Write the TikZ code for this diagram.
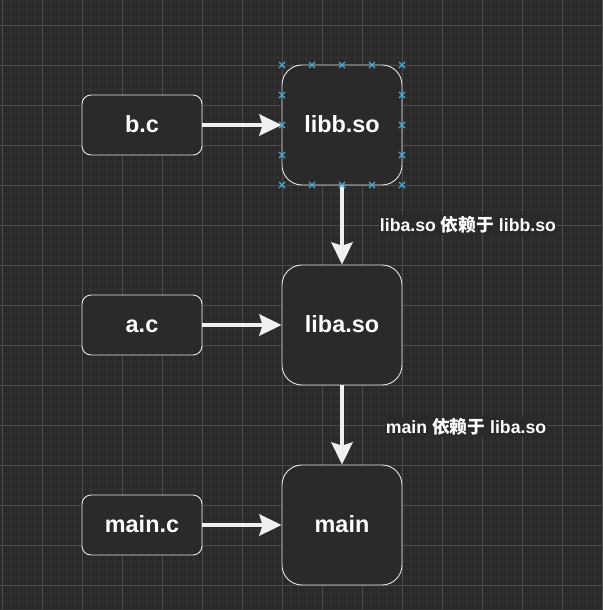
\documentclass[tikz,border=0pt]{standalone}
\usepackage{fontspec}
\setmainfont{Liberation Sans}
\newfontfamily\cjk{Noto Sans CJK SC}
\usetikzlibrary{arrows.meta}
\definecolor{bgc}{HTML}{2A2A2A}
\definecolor{minorc}{HTML}{333333}
\definecolor{majorc}{HTML}{4C4C4C}
\definecolor{boxc}{HTML}{2A2A2A}
\definecolor{edgec}{HTML}{E6E6E6}
\definecolor{arrc}{HTML}{F0F0F0}
\definecolor{handc}{HTML}{4AAAD8}
\tikzset{
  bigbox/.style={draw=edgec, fill=boxc, line width=0.9pt, rounded corners=20pt,
    minimum width=120pt, minimum height=120pt, inner sep=0pt,
    text height=16.5pt, text depth=2.5pt,
    text=white, font=\fontsize{23.4}{27}\selectfont\bfseries},
  smallbox/.style={draw=edgec, fill=boxc, line width=0.9pt, rounded corners=9pt,
    minimum width=120pt, minimum height=60pt, inner sep=0pt,
    text height=16.5pt, text depth=2.5pt,
    text=white, font=\fontsize{23.4}{27}\selectfont\bfseries},
  conn/.style={draw=arrc, line width=4.5pt,
    -{Stealth[length=22pt,width=21pt,inset=3pt]}},
  lbl/.style={fill=bgc, text=white, inner sep=1pt,
    font=\fontsize{17.7}{20}\selectfont\bfseries},
  handle/.style={draw=handc, line width=1.2pt}
}
\begin{document}
\begin{tikzpicture}[x=1pt,y=-1pt]
\fill[bgc] (0,0) rectangle (603,610);
\useasboundingbox (0,0) rectangle (603,610);
% minor grid
\foreach \i in {0,...,75} {
  \draw[minorc, line width=0.8pt] ({2+8*\i},0) -- ({2+8*\i},610);
}
\foreach \j in {-3,...,73} {
  \draw[minorc, line width=0.8pt] (0,{25+8*\j}) -- (603,{25+8*\j});
}
% major grid
\foreach \i in {0,...,15} {
  \draw[majorc, line width=0.9pt] ({2+40*\i},0) -- ({2+40*\i},610);
}
\foreach \j in {0,...,14} {
  \draw[majorc, line width=0.9pt] (0,{25+40*\j}) -- (603,{25+40*\j});
}
% boxes
\node[smallbox] (bc) at (142,125) {b.c};
\node[smallbox] (ac) at (142,325) {a.c};
\node[smallbox] (mc) at (142,525) {main.c};
\node[bigbox] (libb) at (342,125) {libb.so};
\node[bigbox] (liba) at (342,325) {liba.so};
\node[bigbox] (main) at (342,525) {main};
% connectors
\draw[conn] (bc.east) -- (libb.west);
\draw[conn] (ac.east) -- (liba.west);
\draw[conn] (mc.east) -- (main.west);
\draw[conn] (libb.south) -- (liba.north);
\draw[conn] (liba.south) -- (main.north);
% labels
\node[lbl] (l1) at (468,225) {liba.so {\cjk 依赖于} libb.so};
\node[lbl] (l2) at (466,427) {main {\cjk 依赖于} liba.so};
% selection handles on libb.so
\foreach \hx/\hy in {282/65,312/65,342/65,372/65,402/65,
                282/185,312/185,342/185,372/185,402/185,
                282/95,282/125,282/155,
                402/95,402/125,402/155} {
  \draw[handle] ({\hx-3},{\hy-3}) -- ({\hx+3},{\hy+3});
  \draw[handle] ({\hx-3},{\hy+3}) -- ({\hx+3},{\hy-3});
}
\end{tikzpicture}
\end{document}
